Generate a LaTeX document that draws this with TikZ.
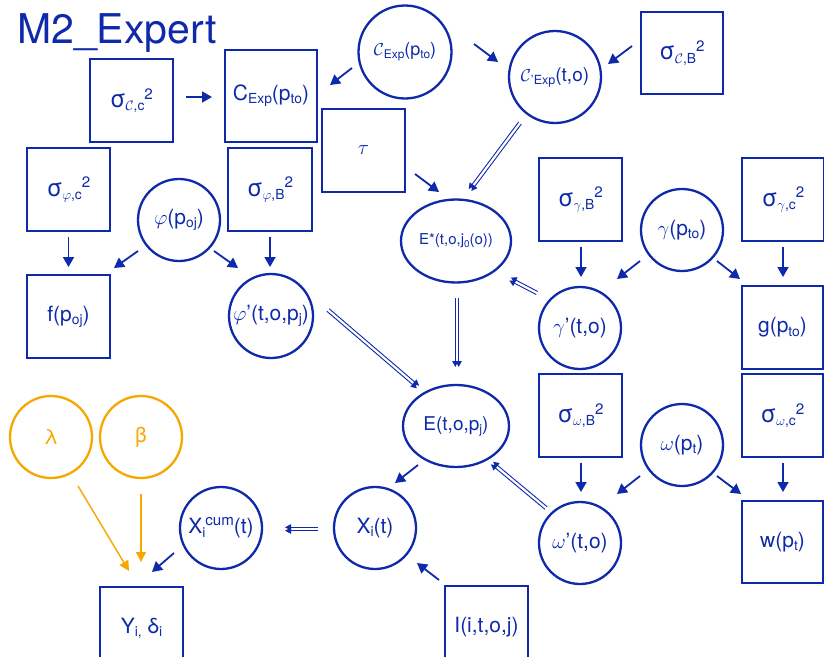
\documentclass[tikz,border=0pt]{standalone}
\usepackage{fontspec}
\setmainfont{TeX Gyre Heros}
\usetikzlibrary{arrows.meta,shapes.geometric,calc}

\definecolor{ink}{RGB}{14,42,170}
\definecolor{amber}{RGB}{247,168,0}

% small lowered / raised text for indices
\newcommand\sbx[1]{\raisebox{-0.3ex}{\scalebox{0.66}{#1}}}
\newcommand\spx[1]{\raisebox{0.75ex}{\scalebox{0.72}{#1}}}
\newcommand\fs[1]{\fontsize{#1}{#1}\selectfont}
\newcommand\sig{{\fontsize{24}{24}\selectfont σ}}

% pair of thin parallel arrows between two points
\newcommand\twin[2]{%
  \draw[darr] ($#1!1.7pt!90:#2$) -- ($#2!1.7pt!-90:#1$);
  \draw[darr] ($#1!1.7pt!-90:#2$) -- ($#2!1.7pt!90:#1$);}

\tikzset{
  lbl/.style={text=ink, font=\fs{21}, inner sep=0pt, align=center},
  varbox/.style={lbl, draw=ink, line width=2.6pt, rectangle,
                 minimum width=83pt, minimum height=83pt},
  varcirc/.style={lbl, draw=ink, line width=2.3pt, circle, minimum size=82pt},
  varell/.style={lbl, draw=ink, line width=2.3pt, ellipse},
  prior/.style={varcirc, draw=amber, text=amber},
  arr/.style={draw=ink, line width=1.8pt, -{Triangle[length=10pt,width=11pt]}},
  parr/.style={draw=amber, line width=1.4pt, -{Triangle[length=10pt,width=10pt]}},
  darr/.style={draw=ink, line width=0.9pt, -{Triangle[length=6pt,width=6pt]}},
}

\begin{document}
\begin{tikzpicture}[x=1pt, y=-1pt]
\useasboundingbox (0,0) rectangle (824,656);
\clip (0,0) rectangle (824,656);
\fill[white] (0,0) rectangle (824,656);

\node[anchor=base west, text=ink, font=\fs{41}, inner sep=0pt] (title) at (17,43) {M2\_Expert};

% calibration block
\node[varbox] (slc) at (131.5,100.5) {\sig\sbx{$\mathcal{C}$,c}\spx{2}};
\node[varbox, minimum width=92pt, minimum height=92pt] (Cexp) at (271,96) {C\sbx{Exp}(p\sbx{to})};
\node[varcirc, minimum size=93pt, font=\fs{18}] (Ccal) at (405,52) {$\mathcal{C}$\sbx{Exp}(p\sbx{to})};
\node[varcirc, minimum size=92pt, font=\fs{19}] (Cprime) at (555,77) {$\mathcal{C}$\sbx{’Exp}(t,o)};
\node[varbox, minimum width=82pt, minimum height=82pt] (slB) at (682,53) {\sig\sbx{$\mathcal{C}$,B}\spx{2}};
\node[varbox] (tau) at (363.5,150.5) {$\tau$};
\node[varell, minimum width=110pt, minimum height=83pt, font=\fs{15}] (Estar) at (456,241) {E*(t,o,j\sbx{0}(o))};

% phi block
\node[varbox] (spc) at (68.5,189.5) {\sig\sbx{$\varphi$,c}\spx{2}};
\node[varcirc] (phi) at (179,220) {$\varphi$(p\sbx{oj})};
\node[varbox, minimum width=84pt] (spB) at (270,189.5) {\sig\sbx{$\varphi$,B}\spx{2}};
\node[varbox] (f) at (68.5,316.5) {f(p\sbx{oj})};
\node[varcirc, minimum size=84pt] (phip) at (271,316) {$\varphi$’(t,o,p\sbx{j})};

% gamma block
\node[varbox] (sgB) at (580.5,199.5) {\sig\sbx{$\gamma$,B}\spx{2}};
\node[varcirc] (gam) at (682,230) {$\gamma$(p\sbx{to})};
\node[varbox, minimum width=82pt] (sgc) at (783,199.5) {\sig\sbx{$\gamma$,c}\spx{2}};
\node[varcirc] (gamp) at (580,328) {$\gamma$’(t,o)};
\node[varbox, minimum width=81pt] (g) at (782.5,327.5) {g(p\sbx{to})};

% exposure
\node[varell, minimum width=106pt, minimum height=82pt, font=\fs{19}] (E) at (456,426) {E(t,o,p\sbx{j})};

% omega block
\node[varbox] (swB) at (580.5,415.5) {\sig\sbx{$\omega$,B}\spx{2}};
\node[varcirc] (om) at (682,445) {$\omega$(p\sbx{t})};
\node[varbox, minimum width=81pt] (swc) at (782.5,415.5) {\sig\sbx{$\omega$,c}\spx{2}};
\node[varcirc] (omp) at (580,543) {$\omega$’(t,o)};
\node[varbox, minimum width=81pt, minimum height=82pt] (w) at (782.5,542) {w(p\sbx{t})};

% individual level
\node[varbox] (I) at (486.5,627.5) {I(i,t,o,j)};
\node[varcirc] (Xi) at (375,528) {X\sbx{i}(t)};
\node[varcirc] (Xc) at (221,528) {X\sbx{i}\spx{cum}(t)};
\node[prior] (lam) at (51,437) {λ};
\node[prior] (bet) at (141,437) {β};
\node[varbox] (Y) at (141.5,628.5) {Y\sbx{i,} δ\sbx{i}};

% stochastic links
\draw[arr] ([shift={(54.5,-3.5)}]slc.center) -- ([shift={(-59,1)}]Cexp.center);
\draw[arr] ([shift={(-53,16)}]Ccal.center) -- ([shift={(59,-11)}]Cexp.center);
\draw[arr] ([shift={(69,-8)}]Ccal.center) -- ([shift={(-57,-15)}]Cprime.center);
\draw[arr] ([shift={(-50,-7)}]slB.center) -- ([shift={(53,-13)}]Cprime.center);
\draw[arr] ([shift={(51.5,23.5)}]tau.center) -- ([shift={(-17,-49)}]Estar.center);

\draw[arr] ([shift={(0,47.5)}]spc.center) -- ([shift={(0,-49.5)}]f.center);
\draw[arr] ([shift={(-41,31)}]phi.center) -- ([shift={(45.5,-48.5)}]f.center);
\draw[arr] ([shift={(35,31)}]phi.center) -- ([shift={(-33,-48)}]phip.center);
\draw[arr] ([shift={(0,47.5)}]spB.center) -- ([shift={(-1,-49)}]phip.center);

\draw[arr] ([shift={(0.5,47.5)}]sgB.center) -- ([shift={(1,-51)}]gamp.center);
\draw[arr] ([shift={(-42,31)}]gam.center) -- ([shift={(37,-49)}]gamp.center);
\draw[arr] ([shift={(35,31)}]gam.center) -- ([shift={(-42.5,-48.5)}]g.center);
\draw[arr] ([shift={(0,47.5)}]sgc.center) -- ([shift={(0.5,-50.5)}]g.center);

\draw[arr] ([shift={(0.5,47.5)}]swB.center) -- ([shift={(1,-51)}]omp.center);
\draw[arr] ([shift={(-42,31)}]om.center) -- ([shift={(37,-49)}]omp.center);
\draw[arr] ([shift={(35,31)}]om.center) -- ([shift={(-41.5,-48)}]w.center);
\draw[arr] ([shift={(0.5,47.5)}]swc.center) -- ([shift={(0.5,-50)}]w.center);

\draw[arr] ([shift={(-38,39)}]E.center) -- ([shift={(20,-45)}]Xi.center);
\draw[arr] ([shift={(-47.5,-47.5)}]I.center) -- ([shift={(42,35)}]Xi.center);
\draw[arr] ([shift={(-47,25)}]Xc.center) -- ([shift={(10.5,-56.5)}]Y.center);
\draw[parr] ([shift={(27,49)}]lam.center) -- ([shift={(-12.5,-57.5)}]Y.center);
\draw[parr] ([shift={(0,57)}]bet.center) -- ([shift={(-0.5,-66.5)}]Y.center);

% deterministic links
\twin{([shift={(-35,46)}]Cprime.center)}{([shift={(14,-51)}]Estar.center)}
\twin{([shift={(1,57)}]Estar.center)}{([shift={(1,-59)}]E.center)}
\twin{([shift={(-43,-35)}]gamp.center)}{([shift={(54,38)}]Estar.center)}
\twin{([shift={(57,-6)}]phip.center)}{([shift={(-38,-39)}]E.center)}
\twin{([shift={(-34,-35)}]omp.center)}{([shift={(36,37)}]E.center)}
\twin{([shift={(-57,1)}]Xi.center)}{([shift={(64,1)}]Xc.center)}
\end{tikzpicture}
\end{document}
